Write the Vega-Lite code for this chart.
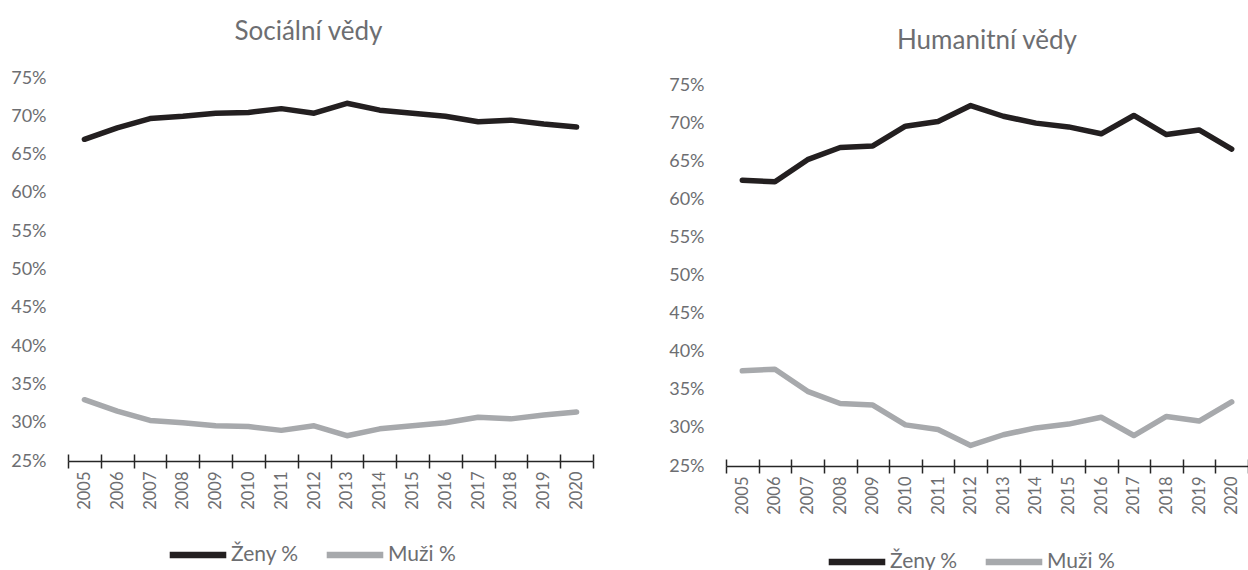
{
  "$schema": "https://vega.github.io/schema/vega-lite/v6.json",
  "padding": {"left": 10, "top": 19, "right": 0, "bottom": 0},
  "bounds": "flush",
  "spacing": 133,
  "config": {
    "font": "Lato",
    "view": {"stroke": null},
    "axis": {"grid": false, "labelColor": "#6D6E71", "labelFontSize": 16.5, "labelFont": "Lato", "labelOverlap": false},
    "legend": {"labelColor": "#6D6E71", "labelFontSize": 21, "labelFont": "Lato"}
  },
  "resolve": {"scale": {"color": "independent"}, "legend": {"color": "independent"}},
  "datasets": {
    "social": [
      {"rok": "2005", "skupina": "Ženy %", "podil": 67.0},
      {"rok": "2006", "skupina": "Ženy %", "podil": 68.5},
      {"rok": "2007", "skupina": "Ženy %", "podil": 69.7},
      {"rok": "2008", "skupina": "Ženy %", "podil": 70.0},
      {"rok": "2009", "skupina": "Ženy %", "podil": 70.4},
      {"rok": "2010", "skupina": "Ženy %", "podil": 70.5},
      {"rok": "2011", "skupina": "Ženy %", "podil": 71.0},
      {"rok": "2012", "skupina": "Ženy %", "podil": 70.4},
      {"rok": "2013", "skupina": "Ženy %", "podil": 71.7},
      {"rok": "2014", "skupina": "Ženy %", "podil": 70.8},
      {"rok": "2015", "skupina": "Ženy %", "podil": 70.4},
      {"rok": "2016", "skupina": "Ženy %", "podil": 70.0},
      {"rok": "2017", "skupina": "Ženy %", "podil": 69.3},
      {"rok": "2018", "skupina": "Ženy %", "podil": 69.5},
      {"rok": "2019", "skupina": "Ženy %", "podil": 69.0},
      {"rok": "2020", "skupina": "Ženy %", "podil": 68.6},
      {"rok": "2005", "skupina": "Muži %", "podil": 33.0},
      {"rok": "2006", "skupina": "Muži %", "podil": 31.5},
      {"rok": "2007", "skupina": "Muži %", "podil": 30.3},
      {"rok": "2008", "skupina": "Muži %", "podil": 30.0},
      {"rok": "2009", "skupina": "Muži %", "podil": 29.6},
      {"rok": "2010", "skupina": "Muži %", "podil": 29.5},
      {"rok": "2011", "skupina": "Muži %", "podil": 29.0},
      {"rok": "2012", "skupina": "Muži %", "podil": 29.6},
      {"rok": "2013", "skupina": "Muži %", "podil": 28.3},
      {"rok": "2014", "skupina": "Muži %", "podil": 29.2},
      {"rok": "2015", "skupina": "Muži %", "podil": 29.6},
      {"rok": "2016", "skupina": "Muži %", "podil": 30.0},
      {"rok": "2017", "skupina": "Muži %", "podil": 30.7},
      {"rok": "2018", "skupina": "Muži %", "podil": 30.5},
      {"rok": "2019", "skupina": "Muži %", "podil": 31.0},
      {"rok": "2020", "skupina": "Muži %", "podil": 31.4}
    ],
    "human": [
      {"rok": "2005", "skupina": "Ženy %", "podil": 62.5},
      {"rok": "2006", "skupina": "Ženy %", "podil": 62.3},
      {"rok": "2007", "skupina": "Ženy %", "podil": 65.2},
      {"rok": "2008", "skupina": "Ženy %", "podil": 66.8},
      {"rok": "2009", "skupina": "Ženy %", "podil": 67.0},
      {"rok": "2010", "skupina": "Ženy %", "podil": 69.6},
      {"rok": "2011", "skupina": "Ženy %", "podil": 70.2},
      {"rok": "2012", "skupina": "Ženy %", "podil": 72.3},
      {"rok": "2013", "skupina": "Ženy %", "podil": 70.9},
      {"rok": "2014", "skupina": "Ženy %", "podil": 70.0},
      {"rok": "2015", "skupina": "Ženy %", "podil": 69.5},
      {"rok": "2016", "skupina": "Ženy %", "podil": 68.6},
      {"rok": "2017", "skupina": "Ženy %", "podil": 71.0},
      {"rok": "2018", "skupina": "Ženy %", "podil": 68.5},
      {"rok": "2019", "skupina": "Ženy %", "podil": 69.1},
      {"rok": "2020", "skupina": "Ženy %", "podil": 66.6},
      {"rok": "2005", "skupina": "Muži %", "podil": 37.5},
      {"rok": "2006", "skupina": "Muži %", "podil": 37.7},
      {"rok": "2007", "skupina": "Muži %", "podil": 34.8},
      {"rok": "2008", "skupina": "Muži %", "podil": 33.2},
      {"rok": "2009", "skupina": "Muži %", "podil": 33.0},
      {"rok": "2010", "skupina": "Muži %", "podil": 30.4},
      {"rok": "2011", "skupina": "Muži %", "podil": 29.8},
      {"rok": "2012", "skupina": "Muži %", "podil": 27.7},
      {"rok": "2013", "skupina": "Muži %", "podil": 29.1},
      {"rok": "2014", "skupina": "Muži %", "podil": 30.0},
      {"rok": "2015", "skupina": "Muži %", "podil": 30.5},
      {"rok": "2016", "skupina": "Muži %", "podil": 31.4},
      {"rok": "2017", "skupina": "Muži %", "podil": 29.0},
      {"rok": "2018", "skupina": "Muži %", "podil": 31.5},
      {"rok": "2019", "skupina": "Muži %", "podil": 30.9},
      {"rok": "2020", "skupina": "Muži %", "podil": 33.4}
    ]
  },
  "hconcat": [
    {
      "width": 525,
      "height": 383,
      "title": {"text": "Sociální vědy", "fontSize": 26, "fontWeight": "normal", "font": "Lato", "color": "#6D6E71", "offset": 24, "dx": -22},
      "data": {"name": "social"},
      "resolve": {"axis": {"x": "independent"}},
      "layer": [
        {
          "mark": {"type": "line", "strokeWidth": 5.5, "strokeCap": "round", "strokeJoin": "round"},
          "encoding": {
            "x": {"field": "rok", "type": "ordinal", "bandPosition": 0.5,
                  "scale": {"type": "band", "paddingInner": 0, "paddingOuter": 0},
                  "axis": {"title": null, "labelAngle": -90, "tickBand": "extent", "tickSize": 7, "tickWidth": 1.5, "tickColor": "#262626", "domainColor": "#262626", "domainWidth": 1.5, "labelPadding": 3}},
            "y": {"field": "podil", "type": "quantitative",
                  "scale": {"domain": [25, 75], "nice": false, "zero": false},
                  "axis": {"title": null, "values": [25, 30, 35, 40, 45, 50, 55, 60, 65, 70, 75], "labelExpr": "datum.value + '%'", "labelFontSize": 18, "labelOverlap": false, "domain": false, "ticks": false, "labelPadding": 22}},
            "color": {"field": "skupina", "type": "nominal",
                      "scale": {"domain": ["Ženy %", "Muži %"], "range": ["#231F20", "#A7A9AC"]},
                      "legend": {"title": null, "orient": "none", "legendX": 98, "legendY": 445, "direction": "horizontal", "symbolType": "stroke", "symbolSize": 3200, "symbolStrokeWidth": 6.5, "labelOffset": 1, "columnPadding": 14}}
          }
        },
        {
          "mark": {"type": "point", "opacity": 0},
          "encoding": {
            "x": {"field": "rok", "type": "ordinal", "bandPosition": 0.5,
                  "axis": {"title": null, "orient": "bottom", "labels": false, "domain": false, "tickBand": "extent", "tickSize": -7, "tickWidth": 1.5, "tickColor": "#262626"}}
          }
        }
      ]
    },
    {
      "width": 522,
      "height": 388,
      "title": {"text": "Humanitní vědy", "fontSize": 26, "fontWeight": "normal", "font": "Lato", "color": "#6D6E71", "offset": 22.5},
      "data": {"name": "human"},
      "resolve": {"axis": {"x": "independent"}},
      "layer": [
        {
          "mark": {"type": "line", "strokeWidth": 5.5, "strokeCap": "round", "strokeJoin": "round"},
          "encoding": {
            "x": {"field": "rok", "type": "ordinal", "bandPosition": 0.5,
                  "scale": {"type": "band", "paddingInner": 0, "paddingOuter": 0},
                  "axis": {"title": null, "labelAngle": -90, "tickBand": "extent", "tickSize": 7, "tickWidth": 1.5, "tickColor": "#262626", "domainColor": "#262626", "domainWidth": 1.5, "labelPadding": 3}},
            "y": {"field": "podil", "type": "quantitative",
                  "scale": {"domain": [25, 75.92], "nice": false, "zero": false},
                  "axis": {"title": null, "values": [25, 30, 35, 40, 45, 50, 55, 60, 65, 70, 75], "labelExpr": "datum.value + '%'", "labelFontSize": 18, "labelOverlap": false, "domain": false, "ticks": false, "labelPadding": 22}},
            "color": {"field": "skupina", "type": "nominal",
                      "scale": {"domain": ["Ženy %", "Muži %"], "range": ["#231F20", "#A7A9AC"]},
                      "legend": {"title": null, "orient": "none", "legendX": 99, "legendY": 452, "direction": "horizontal", "symbolType": "stroke", "symbolSize": 3200, "symbolStrokeWidth": 6.5, "labelOffset": 1, "columnPadding": 14}}
          }
        },
        {
          "mark": {"type": "point", "opacity": 0},
          "encoding": {
            "x": {"field": "rok", "type": "ordinal", "bandPosition": 0.5,
                  "axis": {"title": null, "orient": "bottom", "labels": false, "domain": false, "tickBand": "extent", "tickSize": -7, "tickWidth": 1.5, "tickColor": "#262626"}}
          }
        }
      ]
    }
  ]
}
